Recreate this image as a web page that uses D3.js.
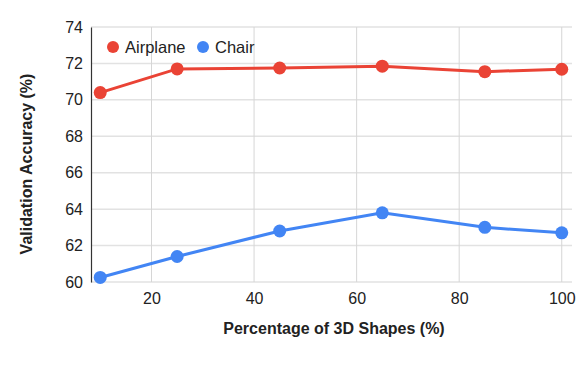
<!DOCTYPE html>
<html>
<head>
<meta charset="utf-8">
<script src="https://cdn.jsdelivr.net/npm/d3@7"></script>
<style>
  body { margin: 0; background: #fff; }
  svg text { font-family: "Liberation Sans", Arial, sans-serif; fill: #222; }
</style>
</head>
<body>
<svg id="chart" width="586" height="368"></svg>
<script>
// data
const shapePercent = [10, 25, 45, 65, 85, 100];
const airplaneAcc = [70.4, 71.7, 71.75, 71.85, 71.55, 71.68];
const chairAcc = [60.25, 61.4, 62.8, 63.8, 63.0, 62.7];
const xTicks = [20, 40, 60, 80, 100];
const yTicks = [60, 62, 64, 66, 68, 70, 72, 74];

const series = [
  {name: "Airplane", values: airplaneAcc, color: "#ea4335"},
  {name: "Chair", values: chairAcc, color: "#4285f4"}
];

const margin = {top: 27, right: 14, bottom: 86, left: 91};
const width = 586, height = 368;
const svg = d3.select("#chart");

const x = d3.scaleLinear().domain([8.2, 102]).range([margin.left, width - margin.right]);
const y = d3.scaleLinear().domain([60, 74]).range([height - margin.bottom, margin.top]);

// grid
svg.append("g").selectAll("line").data(yTicks).join("line")
  .attr("x1", margin.left).attr("x2", width - margin.right)
  .attr("y1", d => y(d)).attr("y2", d => y(d))
  .attr("stroke", "#e2e2e2").attr("stroke-width", 1.5);
svg.append("g").selectAll("line").data(xTicks).join("line")
  .attr("x1", d => x(d)).attr("x2", d => x(d))
  .attr("y1", margin.top).attr("y2", height - margin.bottom)
  .attr("stroke", "#d6d6d6").attr("stroke-width", 1);

// axes
const yAxis = svg.append("g")
  .attr("transform", "translate(" + margin.left + ",0)")
  .call(d3.axisLeft(y).tickValues(yTicks).tickSize(0).tickPadding(8));
yAxis.select(".domain").attr("stroke", "#333").attr("stroke-width", 1.2);
yAxis.selectAll("text").attr("font-size", 16).attr("fill", "#222");

const xAxis = svg.append("g")
  .attr("transform", "translate(0," + (height - margin.bottom) + ")")
  .call(d3.axisBottom(x).tickValues(xTicks).tickSize(0).tickPadding(11));
xAxis.select(".domain").remove();
xAxis.selectAll("text").attr("font-size", 16).attr("fill", "#222");

// axis titles
svg.append("text")
  .attr("x", 334).attr("y", 334)
  .attr("text-anchor", "middle")
  .attr("font-size", 16).attr("font-weight", "bold")
  .text("Percentage of 3D Shapes (%)");
svg.append("text")
  .attr("transform", "translate(32,164) rotate(-90)")
  .attr("text-anchor", "middle")
  .attr("font-size", 16).attr("font-weight", "bold")
  .text("Validation Accuracy (%)");

// lines + points
const line = d3.line().x((d, i) => x(shapePercent[i])).y(d => y(d));
series.forEach(s => {
  svg.append("path")
    .datum(s.values)
    .attr("d", line)
    .attr("fill", "none")
    .attr("stroke", s.color)
    .attr("stroke-width", 3);
  svg.append("g").selectAll("circle").data(s.values).join("circle")
    .attr("cx", (d, i) => x(shapePercent[i]))
    .attr("cy", d => y(d))
    .attr("r", 6.5)
    .attr("fill", s.color);
});

// legend
const legendX = [113, 203];
const legend = svg.append("g").selectAll("g").data(series).join("g")
  .attr("transform", (d, i) => "translate(" + legendX[i] + ",47)");
legend.append("circle").attr("r", 6).attr("fill", d => d.color);
legend.append("text")
  .attr("x", 12).attr("dy", "0.35em")
  .attr("font-size", 16.5)
  .text(d => d.name);
</script>
</body>
</html>
